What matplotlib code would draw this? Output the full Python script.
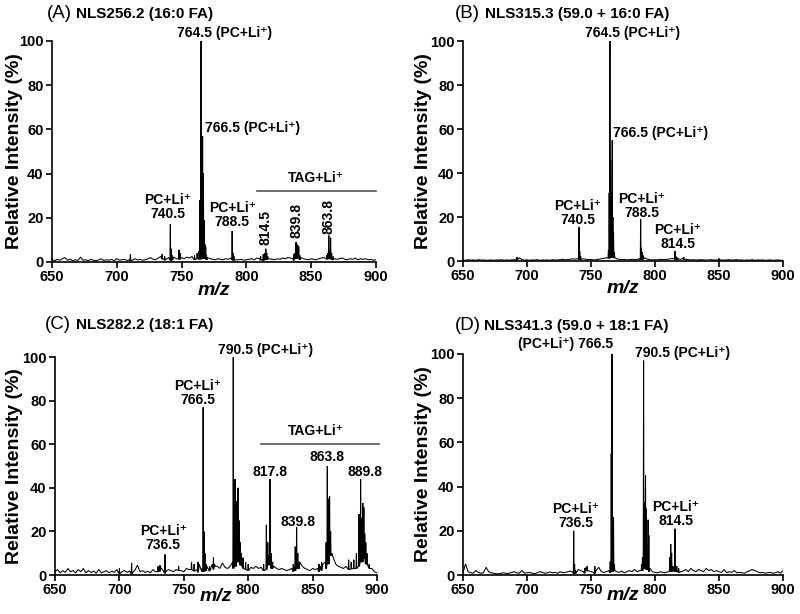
import numpy as np
import matplotlib
matplotlib.use("Agg")
import matplotlib.pyplot as plt

plt.rcParams['font.family'] = ['Liberation Sans', 'DejaVu Sans']

# ---------------- data ----------------
base_start, base_step = 650, 2  # baseline noise samples 650..900 every 2 m/z

A_base = [1.0,0.5,1.2,0.8,1.5,2.0,0.8,1.2,0.6,1.0,0.7,2.2,
          0.8,1.0,0.6,1.2,0.8,0.5,1.0,1.4,0.7,1.0,0.8,1.2,
          0.6,1.5,0.8,1.0,1.2,0.7,1.0,0.8,1.5,0.9,1.2,0.8,
          1.0,1.4,2.0,1.2,1.0,1.8,2.5,1.5,1.2,2.0,1.5,2.2,
          1.5,2.5,2.0,1.5,2.2,1.8,2.5,2.0,3.0,2.5,3.0,3.0,
          2.0,1.5,1.2,1.0,1.5,1.2,1.0,1.5,1.2,1.8,1.5,1.0,
          1.0,1.2,0.8,1.0,1.2,1.5,1.0,1.8,1.5,1.2,2.0,2.5,
          1.5,1.2,1.0,1.5,1.2,1.8,1.5,2.0,1.8,1.5,3.0,3.5,
          2.0,1.5,1.2,1.0,1.5,1.2,1.0,1.5,1.8,2.0,2.5,3.0,
          2.0,1.5,1.2,1.5,1.8,1.2,1.0,1.5,1.2,1.8,1.0,1.5,
          1.2,1.5,1.0,1.2,0.8,1.0]
A_mz = [710.5, 735, 737, 741.3, 742.0, 742.7, 748, 748.8, 760, 762,
        763.5, 764.2, 765.0, 765.6, 766.2, 766.8, 767.4, 768.0, 768.6, 769.2,
        789.0, 789.7, 790.4,
        811, 813, 814.3, 815.0, 815.7, 816.5,
        836.5, 837.5, 838.3, 839.0, 839.7, 840.4, 841.2,
        862.0, 862.8, 863.6, 864.3, 865.0, 865.8, 867]
A_int = [3.5, 3.5, 2.5, 17, 6, 3, 5.5, 4, 3, 4,
         5, 28, 100, 40, 57, 40, 19, 8, 7, 3,
         14, 4, 2.5,
         2.5, 3.5, 4, 6, 4, 2.5,
         3.5, 4, 9, 8, 7.5, 7, 3,
         3, 4, 12, 5, 11, 4, 2.5]

B_base = [0.5,0.3,0.6,0.4,0.5,0.3,0.6,0.4,0.5,0.3,0.4,0.5,
          0.3,0.5,0.4,0.6,0.3,0.5,0.4,0.5,0.6,0.8,1.5,0.6,
          0.4,0.5,0.3,0.5,0.4,0.6,0.3,0.5,0.4,0.5,0.3,0.6,
          0.4,0.5,0.6,0.8,0.5,0.7,0.8,1.0,0.8,1.2,1.5,1.0,
          0.8,0.6,0.7,0.5,0.6,0.8,1.0,1.2,1.5,2.5,3.5,3.0,
          1.0,0.8,0.6,0.7,0.5,0.6,0.8,0.6,0.7,1.0,1.5,1.5,
          0.8,0.6,0.5,0.6,0.5,0.8,0.6,0.7,0.8,1.0,1.2,1.5,
          1.0,0.8,1.2,0.8,0.6,0.5,0.6,0.4,0.5,0.6,0.5,0.4,
          0.5,0.6,0.4,0.5,0.7,0.5,0.4,0.5,0.6,0.4,0.5,0.6,
          0.4,0.5,0.3,0.5,0.4,0.6,0.3,0.5,0.4,0.5,0.3,0.4,
          0.5,0.3,0.4,0.5,0.3,0.4]
B_mz = [692.2, 740.6, 741.2, 742.0,
        763.6, 764.2, 764.8, 765.3, 765.8, 766.6, 767.1, 767.6, 768.3,
        788.8, 789.4, 790.0, 790.8,
        815.6, 816.5, 817.5, 822.5, 850]
B_int = [1.8, 15.5, 4.5, 2,
         5, 31, 100, 46, 31, 55, 20, 13, 4,
         19, 6, 4, 2.5,
         4.5, 2, 1.5, 1.8, 1.2]

C_base = [1.5,2.5,1.0,2.0,1.2,3.0,1.5,2.0,1.0,2.5,1.5,3.0,
          1.0,2.0,1.2,1.8,0.8,2.5,1.0,1.5,2.0,1.0,1.8,1.2,
          2.5,1.0,1.5,2.0,1.2,1.8,1.0,2.2,4.5,1.5,2.0,1.2,
          1.8,1.0,2.5,1.5,3.0,3.5,2.0,1.5,2.5,2.0,1.5,2.5,
          4.0,2.0,1.5,3.0,2.5,5.0,3.5,2.5,5.0,3.0,3.5,4.0,
          3.5,5.0,8.0,4.0,3.0,5.5,3.5,3.0,4.0,6.0,8.0,12.0,
          9.0,6.0,5.0,4.0,3.5,3.0,4.0,3.0,3.5,4.0,5.0,9.0,
          6.0,4.0,3.0,2.5,3.0,2.5,2.0,2.5,3.0,4.0,6.0,6.0,
          4.0,3.0,2.5,2.0,3.0,2.5,3.0,4.0,5.0,6.0,10.0,18.0,
          8.0,5.0,4.0,3.5,3.0,4.0,5.0,5.5,6.0,6.0,8.0,12.0,
          15.0,10.0,6.0,3.0,1.5,1.0]
C_mz = [700, 709.5, 730, 731.5, 735.4, 746, 756, 758, 761,
        764.2, 765.0, 765.7, 766.4, 767.2, 770, 773, 774,
        788.4, 789.8, 790.5, 791.3, 792.1, 793.0, 793.8, 794.6, 796, 798, 800,
        812, 814.1, 815.2, 816.9, 818, 819,
        835, 836.5, 837.6, 838.5, 839.5,
        855, 857, 860.5, 861.4, 862.4, 863.2, 864, 865,
        878, 880, 882, 884, 886.0, 887.3, 888.3, 889.0, 889.8, 890.5, 891.3, 892.2, 894]
C_int = [3, 5.5, 4, 4.5, 9.5, 4, 6, 5, 6,
         3, 77, 20, 10, 5, 4, 8, 5,
         100, 44, 34, 30, 40, 25, 15, 10, 8, 6, 5,
         5, 23, 15, 44, 10, 6,
         5, 13, 22, 10, 6,
         5, 6, 15, 50, 35, 36, 20, 10,
         7, 6, 7, 10, 28, 44, 26, 33, 31, 19, 15, 10, 5]

D_base = [1.0,5.0,1.5,1.0,0.8,2.0,1.2,0.8,1.0,3.5,1.5,1.0,
          0.8,0.6,0.5,0.8,1.0,0.6,0.8,1.2,1.5,1.0,0.8,2.0,
          0.8,1.0,1.2,0.8,0.6,1.0,1.5,1.2,0.8,1.0,1.4,1.0,
          1.2,0.8,1.5,1.0,1.2,1.5,1.8,1.2,1.5,2.5,2.0,1.5,
          3.5,2.0,1.5,1.2,2.0,3.5,1.5,1.2,1.5,2.0,3.0,4.0,
          1.5,1.2,1.8,1.0,1.5,2.0,1.5,2.5,1.5,2.0,4.0,6.0,
          5.0,3.0,1.5,1.2,1.0,1.5,1.2,1.0,1.5,3.0,4.0,3.0,
          2.0,1.5,1.8,2.5,1.5,3.0,2.0,1.5,2.5,2.0,1.5,3.0,
          2.0,2.5,1.5,2.0,1.5,1.2,2.5,1.0,1.5,1.2,2.0,1.0,
          1.2,1.0,0.8,1.5,2.0,2.5,2.0,1.5,1.0,1.2,0.8,1.0,
          1.2,0.8,1.0,1.5,0.8,2.0]
D_mz = [736.5, 737.2, 738, 745, 747, 753,
        765.0, 765.8, 766.4, 767.0, 767.6, 768.3,
        789.5, 790.2, 791.1, 791.7, 792.6, 793.2, 794.6, 795.2,
        811.5, 812.3, 813.0, 814.0, 815.6, 817, 818.5]
D_int = [20, 5, 2, 3, 4, 4,
         6, 55, 100, 12, 26, 5,
         5, 8, 97, 33, 45, 30, 25, 18,
         8, 14, 10, 4, 21, 4, 3]

titles_tag = ["(A)", "(B)", "(C)", "(D)"]
titles = ["NLS256.2 (16:0 FA)", "NLS315.3 (59.0 + 16:0 FA)",
          "NLS282.2 (18:1 FA)", "NLS341.3 (59.0 + 18:1 FA)"]
x_ticks = [650, 700, 750, 800, 850, 900]
y_ticks = [0, 20, 40, 60, 80, 100]

SUP = "PC+Li\u207a"
# annotations: (text, x, y, ha, rotation)
A_ann = [("764.5 (" + SUP + ")", 746.5, 103.6, 'left', 0),
         ("766.5 (" + SUP + ")", 768.0, 60.6, 'left', 0),
         (SUP + "\n740.5", 739.5, 24.7, 'center', 0),
         (SUP + "\n788.5", 789.0, 21.3, 'center', 0)]
A_rot = [("814.5", 815.0, 7.7), ("839.8", 838.3, 10.8), ("863.8", 863.0, 12.7)]
B_ann = [("764.5 (" + SUP + ")", 745.3, 103.6, 'left', 0),
         ("766.5 (" + SUP + ")", 767.2, 58.2, 'left', 0),
         (SUP + "\n740.5", 739.8, 22.0, 'center', 0),
         (SUP + "\n788.5", 789.8, 25.2, 'center', 0),
         (SUP + "\n814.5", 818.0, 10.7, 'center', 0)]
C_ann = [("790.5 (" + SUP + ")", 776.6, 103.2, 'left', 0),
         (SUP + "\n766.5", 761.0, 83.7, 'center', 0),
         ("817.8", 817.0, 47.2, 'center', 0),
         ("839.8", 838.7, 24.3, 'center', 0),
         ("863.8", 861.0, 54.1, 'center', 0),
         ("889.8", 890.7, 47.2, 'center', 0),
         (SUP + "\n736.5", 734.0, 17.0, 'center', 0)]
D_ann = [("(" + SUP + ") 766.5", 767.2, 104.5, 'right', 0),
         ("790.5 (" + SUP + ")", 784.4, 100.5, 'left', 0),
         (SUP + "\n736.5", 738.0, 26.5, 'center', 0),
         (SUP + "\n814.5", 816.4, 27.6, 'center', 0)]
# TAG bar: (x0, x1, y, label_x, label_y)
A_tag = (808, 900, 32.3, 853.7, 38.0)
C_tag = (810, 901.5, 60.0, 852.6, 66.0)

panels = [
    dict(base=A_base, mz=A_mz, it=A_int, ann=A_ann, rot=A_rot, tag=A_tag,
         rect=[0.065, 0.5733, 0.405, 0.36], ty=1.122, tx=(-0.015, 0.074),
         ylx=-0.09, xly=-0.09),
    dict(base=B_base, mz=B_mz, it=B_int, ann=B_ann, rot=[], tag=None,
         rect=[0.57875, 0.5749, 0.40, 0.3583], ty=1.123, tx=(-0.025, 0.069),
         ylx=-0.097, xly=-0.088),
    dict(base=C_base, mz=C_mz, it=C_int, ann=C_ann, rot=[], tag=C_tag,
         rect=[0.06875, 0.0635, 0.4025, 0.355], ty=1.147, tx=(-0.031, 0.065),
         ylx=-0.10, xly=-0.06),
    dict(base=D_base, mz=D_mz, it=D_int, ann=D_ann, rot=[], tag=None,
         rect=[0.57875, 0.0635, 0.40, 0.36], ty=1.127, tx=(-0.025, 0.066),
         ylx=-0.097, xly=-0.055),
]


def profile(base, mz, it, hw=0.3):
    bx = base_start + base_step * np.arange(len(base))
    by = np.asarray(base, float)
    xs, ys = [], []
    for x, y in zip(bx, by):
        if not any(abs(x - m) <= hw for m in mz):
            xs.append(x); ys.append(y)
    for m, h in zip(mz, it):
        foot = by[int(np.argmin(np.abs(bx - m)))] * 0.5
        xs += [m - hw, m, m + hw]
        ys += [foot, h, foot]
    order = np.argsort(xs, kind='stable')
    return np.asarray(xs)[order], np.asarray(ys)[order]


fig = plt.figure(figsize=(8.0, 6.14), dpi=100)
for i, p in enumerate(panels):
    ax = fig.add_axes(p['rect'])
    x, y = profile(p['base'], p['mz'], p['it'])
    ax.plot(x, y, color='black', lw=0.75, solid_joinstyle='miter')
    ax.set_xlim(650, 900)
    ax.set_ylim(0, 100)
    for s in ['top', 'right']:
        ax.spines[s].set_visible(False)
    for s in ['left', 'bottom']:
        ax.spines[s].set_linewidth(1.2)
    ax.set_xticks(x_ticks)
    ax.set_yticks(y_ticks)
    ax.tick_params(direction='out', length=4, width=1.2, labelsize=10.5, pad=2)
    for lab in ax.get_xticklabels() + ax.get_yticklabels():
        lab.set_fontweight('bold')
    ax.set_ylabel("Relative Intensity (%)", fontsize=14, fontweight='bold')
    ax.yaxis.set_label_coords(p['ylx'], 0.5)
    ax.set_xlabel("m/z", fontsize=14, fontweight='bold', style='italic')
    ax.xaxis.set_label_coords(0.5, p['xly'])
    ax.text(p['tx'][0], p['ty'], titles_tag[i], transform=ax.transAxes,
            fontsize=13.5, ha='left', va='center')
    ax.text(p['tx'][1], p['ty'], titles[i], transform=ax.transAxes,
            fontsize=11, fontweight='bold', ha='left', va='center')
    for t, tx, ty, ha, rot in p['ann']:
        ax.text(tx, ty, t, ha=ha, va='center', fontsize=10, fontweight='bold',
                linespacing=1.0, clip_on=False)
    for t, tx, ty in p['rot']:
        ax.text(tx, ty, t, ha='center', va='bottom', rotation=90, fontsize=10,
                fontweight='bold')
    if p['tag'] is not None:
        x0, x1, yy, lx, ly = p['tag']
        ax.plot([x0, x1], [yy, yy], color='#555555', lw=1.2, clip_on=False)
        ax.text(lx, ly, "TAG+Li\u207a", ha='center', va='center', fontsize=10,
                fontweight='bold')

fig.savefig("out.png", dpi=100)
